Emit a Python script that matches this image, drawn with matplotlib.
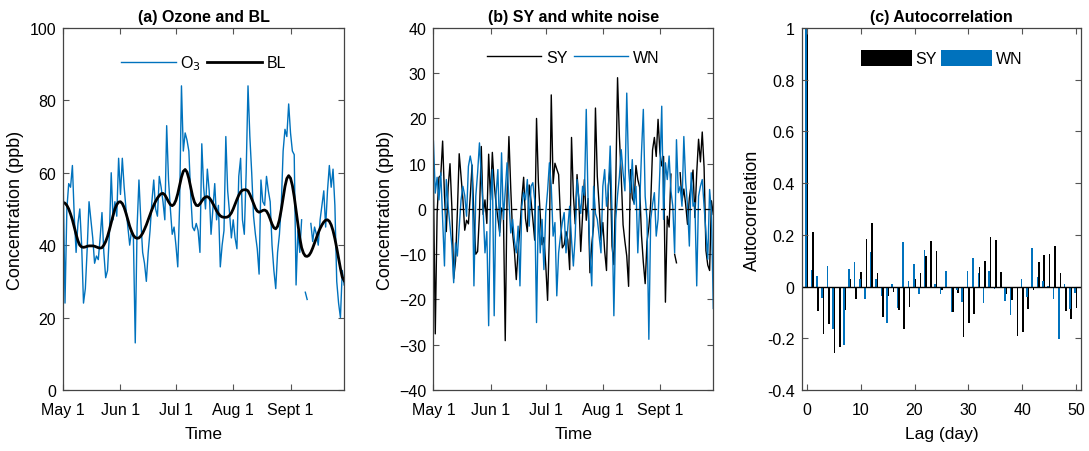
import numpy as np
import matplotlib.pyplot as plt

plt.rcParams['font.family'] = ['Liberation Sans', 'DejaVu Sans']

nan = np.nan

# daily values, May 1 .. Sept 30 (day 0 .. 152)
o3 = [58, 24, 50, 57, 56, 62, 48, 38, 46, 50,
      40, 24, 28, 39, 52, 47, 42, 35, 37, 36,
      42, 49, 38, 31, 33, 43, 60, 47, 52, 48,
      64, 54, 64, 56, 50, 45, 40, 44, 42, 13,
      45, 58, 47, 38, 35, 30, 38, 44, 52, 58,
      50, 48, 59, 56, 52, 47, 73, 58, 50, 43,
      45, 40, 34, 51, 84, 66, 71, 69, 66, 54,
      45, 44, 46, 44, 38, 68, 56, 50, 61, 55,
      43, 50, 57, 47, 51, 34, 40, 44, 70, 55,
      49, 42, 47, 42, 39, 59, 64, 47, 43, 60,
      84, 70, 60, 48, 43, 39, 32, 58, 52, 51,
      59, 55, 52, 40, 33, 28, 38, 43, 51, 66,
      72, 70, 79, 71, 66, 65, 29, 44, 38, 47,
      nan, 27, 25, nan, 46, 41, 45, 43, 40, 47,
      51, 55, 45, 55, 62, 56, 61, 51, 30, 24,
      20, 33, 29]

bl = [51.8, 51.6, 51.0, 50.0, 48.6, 47.0, 45.0, 43.0, 41.2, 40.0,
      39.5, 39.4, 39.5, 39.7, 39.8, 39.8, 39.8, 39.7, 39.5, 39.3,
      39.2, 39.3, 40.0, 41.0, 42.4, 44.2, 46.2, 48.2, 50.0, 51.2,
      51.9, 52.0, 51.5, 50.4, 48.8, 47.0, 45.2, 43.8, 42.7, 42.1,
      41.9, 42.0, 42.5, 43.3, 44.4, 45.6, 47.0, 48.4, 49.8, 51.0,
      52.1, 53.0, 53.7, 54.2, 54.3, 53.9, 53.0, 52.0, 51.2, 50.9,
      51.3, 52.4, 54.2, 56.5, 58.8, 60.4, 60.9, 60.2, 58.4, 56.0,
      53.6, 51.9, 51.0, 50.9, 51.4, 52.2, 52.9, 53.3, 53.4, 53.1,
      52.4, 51.5, 50.5, 49.5, 48.7, 48.1, 47.8, 47.7, 47.7, 47.8,
      48.2, 48.9, 50.0, 51.3, 52.6, 53.8, 54.7, 55.2, 55.3, 55.3,
      55.0, 54.0, 52.8, 51.5, 50.2, 49.4, 49.1, 49.3, 49.6, 49.7,
      49.4, 48.5, 47.2, 45.8, 44.8, 44.5, 45.2, 47.0, 49.8, 53.0,
      56.2, 58.4, 59.2, 58.5, 56.5, 53.4, 49.6, 45.6, 42.0, 39.3,
      37.8, 37.0, 36.9, 37.2, 38.0, 39.2, 40.6, 42.0, 43.4, 44.6,
      45.6, 46.4, 46.9, 47.0, 46.6, 45.6, 44.0, 41.8, 39.2, 36.4,
      33.6, 31.2, 30.2]

sy = [6.2, -27.6, -1.0, 7.0, 7.4, 15.0, 3.0, -5.0, 4.8, 10.0,
      0.5, -15.4, -11.5, -0.7, 12.2, 7.2, 2.2, -4.7, -2.5, -3.3,
      2.8, 9.7, -2.0, -10.0, -9.4, -1.2, 13.8, -1.2, 2.0, -3.2,
      12.1, 2.0, 12.5, 5.6, 1.2, -2.0, -5.2, 0.2, -0.7, -29.1,
      3.1, 16.0, 4.5, -5.3, -9.4, -15.6, -9.0, -4.4, 2.2, 7.0,
      -2.1, -5.0, 5.3, 1.8, -2.3, -6.9, 20.0, 6.0, -1.2, -7.9,
      -6.3, -12.4, -20.2, -5.5, 25.2, 5.6, 10.1, 8.8, 7.6, -2.0,
      -8.6, -7.9, -5.0, -6.9, -13.4, 15.8, 3.1, -3.3, 7.6, 1.9,
      -9.4, -1.5, 6.5, -2.5, 2.3, -14.1, -7.8, -3.7, 22.3, 7.2,
      0.8, -6.9, -3.0, -9.3, -13.6, 5.2, 9.3, -8.2, -12.3, 4.7,
      29.0, 16.0, 7.2, -3.5, -7.2, -10.4, -17.1, 8.7, 2.4, 1.3,
      9.6, 6.5, 4.8, -5.8, -11.8, -16.5, -7.2, -4.0, 1.2, 13.0,
      15.8, 11.6, 19.8, 12.5, 9.5, 11.6, -20.6, -1.6, -4.0, 7.7,
      nan, -10.0, -11.9, nan, 8.0, 1.8, 4.4, 1.0, -3.4, 2.4,
      5.4, 8.6, -1.9, 8.0, 15.4, 10.4, 17.0, 9.2, -9.2, -12.4,
      -13.6, 1.8, -1.2]

wn = [15, 3.5, 7, 2, 8, -2, -12.6, 6.5, 0.6, -3.8,
      -8, -16.3, -7.5, -10.4, -4, 2, 5, 3, -1.6, 9.4,
      11.7, 9.4, -17, 2.8, 8, 14.6, 7.2, 0, -9.7, -5,
      -25.8, 2.1, 8.7, -23.6, 3, 8.7, -6, 12.4, -2.3, 4,
      10.2, 2.1, -5.3, -2.3, -7, -9.7, -3.8, -17, 0.6, 3.6,
      2, 6.5, -3.8, 5, 5.8, 2, -25.1, 0.6, -9.7, -2.3,
      -13.4, -0.8, 4, 10.2, 5, -6, -3, -19.2, -9.7, -6,
      -3, -0.8, -9.7, -4, 0.6, -6.8, -12.6, -6, 6.5, 2.1,
      -1, 5, 3, 22, 1.4, -9.7, -17, 5, -1, -2.3,
      -6, -9.7, 5, 8.7, 0.6, 4, 13.9, -0.8, -23.6, -2.3,
      3, 7.2, 13.1, 8, 4, 25.6, 8.7, 3.6, 10.9, 1,
      5, -9.7, 0.6, 12.4, 22, 2.8, -2.3, -28.8, -2.3, 1,
      3.6, -6, -2.3, 8.7, 22.7, -2.3, 10.2, 6.5, 11.7, 4,
      0.6, -9.7, 15.3, 3.6, 5, 0.6, 16, 6, 0.6, -8.2,
      8, 0.6, 1.4, -17, 2.8, 5, 6.5, 0.6, -5, -11.1,
      4.3, -0.8, -22]

# autocorrelation, lag 0 .. 50
acf_sy = [1.0, 0.21, -0.093, -0.183, -0.144, -0.258, -0.232, -0.089, 0.03, -0.048,
          0.055, 0.184, 0.245, 0.052, -0.116, -0.037, -0.022, -0.09, -0.164, -0.08,
          0.03, 0.052, 0.12, 0.178, 0.137, -0.015, -0.004, -0.097, -0.025, -0.196,
          -0.14, -0.106, 0.075, 0.098, 0.19, 0.18, 0.055, -0.028, -0.052, -0.193,
          -0.177, -0.086, -0.015, 0.094, 0.122, 0.126, 0.155, 0.053, -0.093, -0.125,
          -0.084]
acf_wn = [1.0, 0.064, 0.042, -0.045, 0.079, -0.164, -0.006, -0.226, 0.066, 0.094,
          0.03, -0.05, 0.135, 0.03, -0.035, -0.142, 0.009, -0.084, 0.171, 0.022,
          0.086, -0.027, 0.14, 0.0, 0.01, -0.028, 0.062, -0.097, -0.015, -0.06,
          0.059, 0.112, 0.053, -0.063, 0.059, -0.009, -0.006, -0.054, -0.11, -0.004,
          0.03, -0.041, 0.148, 0.035, 0.023, 0.004, -0.048, -0.202, 0.01, -0.086,
          -0.024]

date_ticks = [0, 31, 61, 92, 123]
date_labels = ['May 1', 'Jun 1', 'Jul 1', 'Aug 1', 'Sept 1']

blue = '#0072BD'
days = np.arange(len(o3))
lags = np.arange(len(acf_sy))

fig = plt.figure(figsize=(10.89, 4.52), dpi=100)
ax1 = fig.add_axes([0.058, 0.135, 0.258, 0.801])
ax2 = fig.add_axes([0.398, 0.135, 0.257, 0.801])
ax3 = fig.add_axes([0.736, 0.135, 0.257, 0.801])

for ax in (ax1, ax2, ax3):
    ax.tick_params(direction='in', top=True, right=True, labelsize=11.5,
                   length=4, color='#555555')
    ax.tick_params(axis='x', pad=9)
    ax.tick_params(axis='y', pad=5)
    for s in ax.spines.values():
        s.set_color('#444444')
        s.set_linewidth(0.9)

# (a)
ax1.plot(days, o3, color=blue, lw=1.0, label='O$_3$')
ax1.plot(days, bl, color='black', lw=2.0, label='BL')
ax1.set_xlim(0, 152)
ax1.set_ylim(0, 100)
ax1.set_xticks(date_ticks)
ax1.set_xticklabels(date_labels)
ax1.set_yticks(range(0, 101, 20))
ax1.set_xlabel('Time', fontsize=12.5, labelpad=6)
ax1.set_ylabel('Concentration (ppb)', fontsize=13)
ax1.set_title('(a) Ozone and BL', fontsize=11.5, fontweight='bold', pad=5)
ax1.legend(loc='upper center', ncol=2, frameon=False, fontsize=11.5,
           handlelength=3.4, columnspacing=0.4, handletextpad=0.3,
           bbox_to_anchor=(0.5, 0.97))

# (b)
ax2.plot(days, sy, color='black', lw=1.0, label='SY')
ax2.plot(days, wn, color=blue, lw=1.0, label='WN')
ax2.axhline(0, color='black', lw=0.9, ls='--', dashes=(4, 3))
ax2.set_xlim(0, 152)
ax2.set_ylim(-40, 40)
ax2.set_xticks(date_ticks)
ax2.set_xticklabels(date_labels)
ax2.set_yticks(range(-40, 41, 10))
ax2.set_xlabel('Time', fontsize=12.5, labelpad=6)
ax2.set_ylabel('Concentration (ppb)', fontsize=13)
ax2.set_title('(b) SY and white noise', fontsize=11.5, fontweight='bold', pad=5)
ax2.legend(loc='upper center', ncol=2, frameon=False, fontsize=11.5,
           handlelength=3.4, columnspacing=0.4, handletextpad=0.3,
           bbox_to_anchor=(0.5, 0.98))

# (c)
ax3.bar(lags + 0.1, acf_sy, width=0.3, color='black', label='SY')
ax3.bar(lags - 0.15, acf_wn, width=0.3, color=blue, label='WN')
ax3.axhline(0, color='black', lw=1.0)
ax3.set_xlim(-1, 51)
ax3.set_ylim(-0.4, 1)
ax3.set_xticks(range(0, 51, 10))
ax3.set_yticks([-0.4, -0.2, 0, 0.2, 0.4, 0.6, 0.8, 1])
ax3.set_yticklabels(['-0.4', '-0.2', '0', '0.2', '0.4', '0.6', '0.8', '1'])
ax3.set_xlabel('Lag (day)', fontsize=12.5, labelpad=6)
ax3.set_ylabel('Autocorrelation', fontsize=13)
ax3.set_title('(c) Autocorrelation', fontsize=11.5, fontweight='bold', pad=5)
ax3.legend(loc='upper center', ncol=2, frameon=False, fontsize=11.5,
           handlelength=3.2, handleheight=1.2, columnspacing=0.3,
           handletextpad=0.2, bbox_to_anchor=(0.5, 0.98))

fig.savefig('out.png', dpi=100)
